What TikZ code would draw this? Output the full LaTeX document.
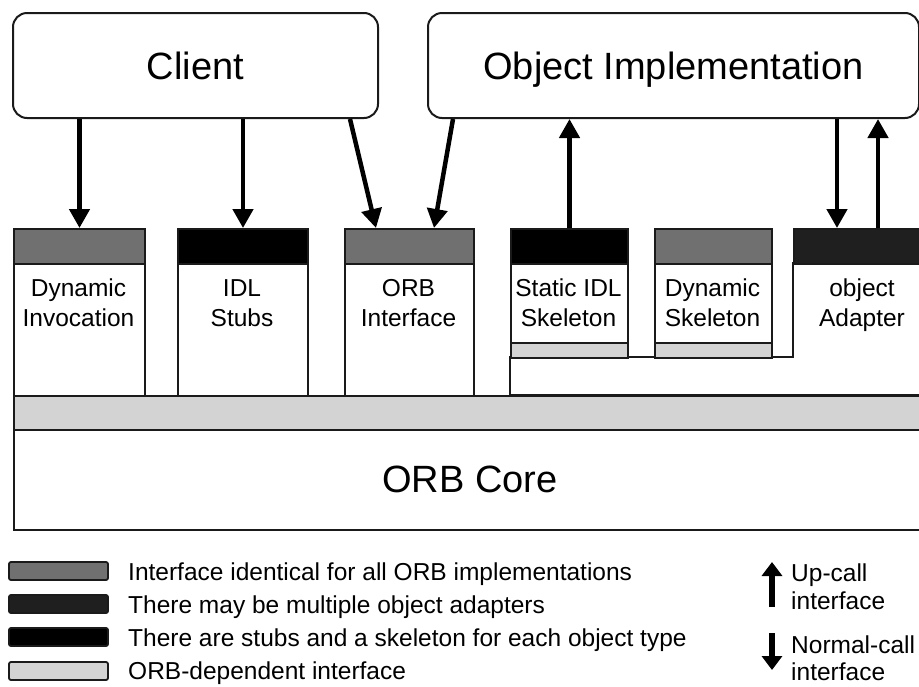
\documentclass[tikz,border=0pt]{standalone}
\usepackage{fontspec}
\setmainfont{Liberation Sans}
\usetikzlibrary{arrows.meta}
\definecolor{midgray}{HTML}{707070}
\definecolor{adaptergray}{HTML}{1F1F1F}
\definecolor{lightgray2}{HTML}{D3D3D3}
\definecolor{edge}{HTML}{1A1A1A}
\begin{document}
\begin{tikzpicture}[x=1pt,y=-1pt,
  box/.style={draw=edge, line width=2pt, inner sep=0pt, anchor=north west, fill=white},
  wh/.style 2 args={minimum width=#1pt, minimum height=#2pt},
  lbl/.style={font=\fontsize{24.5}{30}\selectfont, align=center, inner sep=0pt},
  big/.style={font=\fontsize{38}{40}\selectfont, text height=27.5pt, text depth=0pt},
  legtext/.style={font=\fontsize{24.5}{30}\selectfont, inner sep=0pt, anchor=base west},
  swatch/.style={draw=edge, line width=1.8pt, rounded corners=2pt},
  call/.style={line width=4.5pt, -{Triangle[width=20pt,length=19pt]}},
  legcall/.style={line width=6pt, -{Triangle[width=20pt,length=14pt]}}
]
\useasboundingbox (0,0) rectangle (919,686);
\begin{scope}
\clip (0,0) rectangle (919,686);
% top boxes
\node[box, big, rounded corners=14pt, wh={365}{105}] (client) at (12,12) {Client};
\node[box, big, rounded corners=14pt, wh={491}{105}] (oi) at (427,12) {Object Implementation};

% interface columns
\node[box, wh={131}{132}] (di) at (13,263) {};
\node[box, fill=midgray, wh={131}{35}] (dih) at (13,228) {};
\node[box, wh={130}{132}] (idl) at (177,263) {};
\node[box, fill=black, wh={130}{35}] (idlh) at (177,228) {};
\node[box, wh={129}{132}] (orbi) at (344,263) {};
\node[box, fill=midgray, wh={129}{35}] (orbih) at (344,228) {};

% object adapter (L-shaped body)
\draw[draw=edge, line width=2pt, fill=white] (940,263) -- (793,263) -- (793,357) -- (510,357) -- (510,395) -- (940,395);
\node[box, fill=adaptergray, wh={137}{35}] (oah) at (793,228) {};
\node[lbl] (oa) at (862,305) {object\\Adapter};

% skeletons
\node[box, wh={117}{79}] (ss) at (510,263) {};
\node[box, fill=black, wh={117}{35}] (ssh) at (510,228) {};
\node[box, fill=lightgray2, wh={117}{15}] (sss) at (510,342) {};
\node[box, wh={117}{79}] (ds) at (654,263) {};
\node[box, fill=midgray, wh={117}{35}] (dsh) at (654,228) {};
\node[box, fill=lightgray2, wh={117}{15}] (dss) at (654,342) {};

% labels
\node[lbl] at (78.5,303) {Dynamic\\Invocation};
\node[lbl] at (242,303) {IDL\\Stubs};
\node[lbl] at (408.5,303) {ORB\\Interface};
\node[lbl] at (568.5,303) {Static IDL\\Skeleton};
\node[lbl] at (712.5,303) {Dynamic\\Skeleton};

% ORB layers
\node[box, fill=lightgray2, wh={930}{34}] (orbstrip) at (13,395) {};
\node[box, big, wh={930}{100}] (core) at (13,429) {};
\node[big, inner sep=0pt] at (470,479) {ORB Core};

% connectors
\draw[call] (client.south -| dih.north) -- (dih.north);
\draw[call] (client.south -| idlh.north) -- (idlh.north);
\draw[call] ([xshift=-29pt]client.south east) -- ([xshift=32pt]orbih.north west);
\draw[call] ([xshift=26pt]oi.south west) -- ([xshift=-41pt]orbih.north east);
\draw[call] (ssh.north) -- (ssh.north |- oi.south);
\draw[call] ([xshift=44pt]oah.north west |- oi.south) -- ([xshift=44pt]oah.north west);
\draw[call] ([xshift=85pt]oah.north west) -- ([xshift=85pt]oah.north west |- oi.south);

% legend
\draw[swatch, fill=midgray] (9,562) rectangle (108,580);
\draw[swatch, fill=adaptergray] (9,595) rectangle (108,613);
\draw[swatch, fill=black] (9,628) rectangle (108,646);
\draw[swatch, fill=lightgray2] (9,662) rectangle (108,680);
\node[legtext] (l1) at (128,580) {Interface identical for all ORB implementations};
\node[legtext] (l2) at (128,613) {There may be multiple object adapters};
\node[legtext] (l3) at (128,646) {There are stubs and a skeleton for each object type};
\node[legtext] (l4) at (128,679) {ORB-dependent interface};

\coordinate (upA) at (772,607);
\coordinate (upB) at (772,562);
\coordinate (dnA) at (772,633);
\coordinate (dnB) at (772,670);
\draw[legcall] (upA) -- (upB);
\draw[legcall] (dnA) -- (dnB);
\node[legtext] (u1) at (791,581) {Up-call};
\node[legtext] (u2) at (791,609) {interface};
\node[legtext] (n1) at (791,653) {Normal-call};
\node[legtext] (n2) at (791,680) {interface};
\end{scope}
\end{tikzpicture}
\end{document}
